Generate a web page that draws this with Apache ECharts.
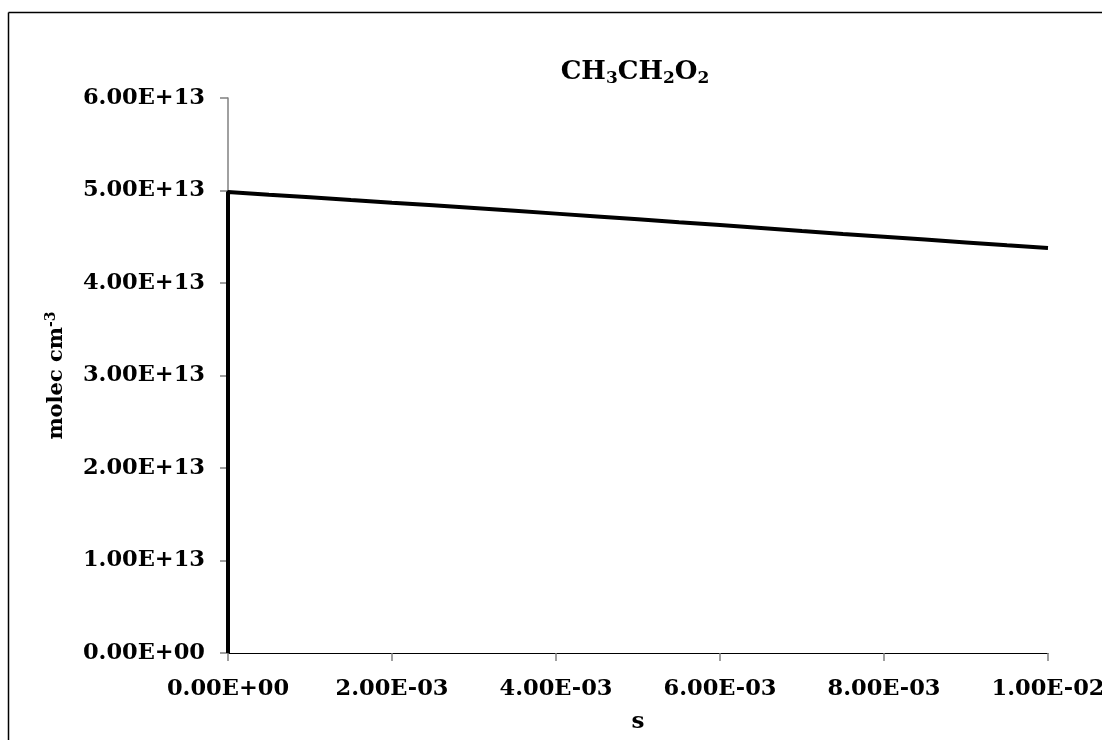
<!DOCTYPE html>
<html>
<head>
<meta charset="utf-8">
<script src="https://cdn.jsdelivr.net/npm/echarts@6/dist/echarts.min.js"></script>
<style>
html,body{margin:0;padding:0;background:#fff;overflow:hidden;}
#chart{width:1102px;height:740px;}
</style>
</head>
<body>
<div id="chart"></div>
<script>
// time in seconds
var timeValues = [0, 0, 0.0005, 0.001, 0.0015, 0.002, 0.0025, 0.003, 0.0035, 0.004, 0.0045, 0.005, 0.0055, 0.006, 0.0065, 0.007, 0.0075, 0.008, 0.0085, 0.009, 0.0095, 0.01];
// concentration, molec cm^-3
var concValues = [0, 4.984e13, 4.955e13, 4.927e13, 4.897e13, 4.868e13, 4.840e13, 4.810e13, 4.780e13, 4.750e13, 4.720e13, 4.689e13, 4.657e13, 4.626e13, 4.594e13, 4.562e13, 4.531e13, 4.501e13, 4.470e13, 4.439e13, 4.408e13, 4.378e13];
var titleText = 'CH{sub|3}CH{sub|2}O{sub|2}';
var xAxisName = 's';
var yAxisName = 'molec cm{sup|-3}';

var seriesData = timeValues.map(function (t, i) { return [t, concValues[i]]; });

function sci(v) {
  if (v === 0) return '0.00E+00';
  var s = v.toExponential(2).toUpperCase();
  var parts = s.split('E');
  var exp = parseInt(parts[1], 10);
  var sign = exp < 0 ? '-' : '+';
  var a = Math.abs(exp);
  return parts[0] + 'E' + sign + (a < 10 ? '0' + a : '' + a);
}

var FONT = 'DejaVu Serif';
var chart = echarts.init(document.getElementById('chart'), null, {renderer: 'canvas', width: 1102, height: 740});
chart.setOption({
  backgroundColor: '#ffffff',
  animation: false,
  title: {
    text: titleText,
    left: 630, top: 53, textAlign: 'center',
    textStyle: {
      fontFamily: FONT, fontWeight: 'bold', fontSize: 26, color: '#000',
      rich: {
        sub: {fontFamily: FONT, fontWeight: 'bold', fontSize: 17, color: '#000', padding: [12, 0, 0, 0]}
      }
    }
  },
  graphic: [
    {type: 'line', silent: true, shape: {x1: 8.5, y1: 12.5, x2: 1102, y2: 12.5}, style: {stroke: '#000', lineWidth: 1.5}},
    {type: 'line', silent: true, shape: {x1: 8.5, y1: 12.5, x2: 8.5, y2: 740}, style: {stroke: '#000', lineWidth: 1.5}}
  ],
  grid: {left: 228, right: 54, top: 98, bottom: 87, containLabel: false, outerBoundsMode: 'none'},
  xAxis: {
    type: 'value', min: 0, max: 0.01, interval: 0.002,
    name: xAxisName, nameLocation: 'middle', nameGap: 58,
    nameTextStyle: {fontFamily: FONT, fontWeight: 'bold', fontSize: 23, color: '#000'},
    axisLine: {show: true, onZero: false, lineStyle: {color: '#000', width: 1}},
    axisTick: {show: true, inside: false, length: 8, lineStyle: {color: '#808080', width: 1.5}},
    axisLabel: {formatter: sci, margin: 25, fontFamily: FONT, fontWeight: 'bold', fontSize: 22.5, color: '#000'},
    splitLine: {show: false}
  },
  yAxis: {
    type: 'value', min: 0, max: 6e13, interval: 1e13,
    name: yAxisName, nameLocation: 'middle', nameGap: 158, nameRotate: 90,
    nameTextStyle: {
      fontFamily: FONT, fontWeight: 'bold', fontSize: 21, color: '#000',
      rich: {sup: {fontFamily: FONT, fontWeight: 'bold', fontSize: 14, color: '#000', padding: [0, 0, 12, 0]}}
    },
    axisLine: {show: true, onZero: false, lineStyle: {color: '#808080', width: 1.5}},
    axisTick: {show: true, inside: false, length: 8, lineStyle: {color: '#808080', width: 1.5}},
    axisLabel: {formatter: sci, margin: 23, fontFamily: FONT, fontWeight: 'bold', fontSize: 22.5, color: '#000'},
    splitLine: {show: false}
  },
  series: [{
    type: 'line', data: seriesData, showSymbol: false, symbol: 'none',
    lineStyle: {color: '#000', width: 4}, z: 5
  }]
});
</script>
</body>
</html>
